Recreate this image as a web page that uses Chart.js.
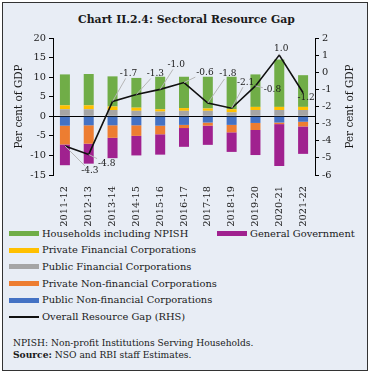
<!DOCTYPE html>
<html>
<head>
<meta charset="utf-8">
<script src="https://cdn.jsdelivr.net/npm/chart.js@4.4.1/dist/chart.umd.min.js"></script>
<style>
  body { margin: 0; background: #fff; font-family: "DejaVu Serif", serif; color: #1a1a1a; }
  #frame {
    position: absolute; left: 2px; top: 2px; width: 366px; height: 369px;
    box-sizing: border-box; border: 1.5px solid #333; background: #e8edf5;
  }
  #title {
    position: absolute; left: 0; top: 12px; width: 373px; text-align: center;
    font-weight: bold; font-size: 11px; line-height: 16px;
  }
  #chartBox { position: absolute; left: 0; top: 0; width: 370px; height: 226px; }
  .leg { position: absolute; font-size: 10px; line-height: 14px; white-space: nowrap; }
  .sw { position: absolute; width: 30px; height: 5px; }
  .note { position: absolute; left: 13px; font-size: 9.5px; line-height: 12px; white-space: nowrap; }
</style>
</head>
<body>
<div id="frame"></div>
<div id="title">Chart II.2.4: Sectoral Resource Gap</div>
<div id="chartBox"><canvas id="myChart"></canvas></div>
<div id="legend"></div>
<div class="note" style="top:337px">NPISH: Non-profit Institutions Serving Households.</div>
<div class="note" style="top:349px"><b>Source:</b> NSO and RBI staff Estimates.</div>

<script>
/* DATA */
const categories = ['2011-12', '2012-13', '2013-14', '2014-15', '2015-16', '2016-17',
                    '2017-18', '2018-19', '2019-20', '2020-21', '2021-22'];
const households    = [7.9, 8.0, 7.7, 7.6, 8.3, 8.0, 8.1, 8.3, 8.3, 12.1, 8.1];
const privateFin    = [1.0, 1.0, 0.9, 0.8, 0.6, 0.7, 0.6, 0.8, 0.8, 0.8, 0.8];
const publicFin     = [1.8, 1.8, 1.6, 1.4, 1.2, 1.4, 1.4, 1.0, 1.6, 1.6, 1.6];
const privateNonFin = [-4.8, -4.7, -3.2, -2.7, -2.2, -0.8, -0.8, -1.9, -1.8, -0.4, -1.2];
const publicNonFin  = [-2.4, -2.3, -2.3, -2.3, -2.4, -2.2, -1.6, -2.2, -1.7, -1.6, -1.4];
const genGovt       = [-5.3, -5.1, -5.2, -5.0, -5.2, -4.8, -4.9, -5.0, -6.4, -10.7, -7.0];
const overallGap    = [-4.3, -4.8, -1.7, -1.3, -1.0, -0.6, -1.8, -2.1, -0.8, 1.0, -1.2];
const leftTicks  = [-15, -10, -5, 0, 5, 10, 15, 20];
const rightTicks = [-6, -5, -4, -3, -2, -1, 0, 1, 2];

const FONT = '"DejaVu Serif", serif';
const TXT = '#1a1a1a';

/** scale an element's font so its text is the given width */
const fitWidth = function (el, target) {
  const cs = getComputedStyle(el);
  const size = parseFloat(cs.fontSize);
  const c = document.createElement('canvas').getContext('2d');
  c.font = cs.fontWeight + ' ' + size + 'px ' + FONT;
  const w = c.measureText(el.textContent).width;
  return size * target / w;
}

/* label placement relative to each line point (dx, dy in px) */
const labelOffsets = [[25, 25], [18, 9], [16, -28], [19, -21], [16, -25], [21, -10],
                      [20, -29], [14, -26], [17, 4], [2, -6], [3, 5]];

/** line labels with leader lines */
const gapLabels = {
  id: 'gapLabels',
  afterDatasetsDraw(chart) {
    const ctx = chart.ctx;
    const idx = chart.data.datasets.findIndex(d => d.type === 'line');
    const meta = chart.getDatasetMeta(idx);
    ctx.save();
    ctx.font = '9px ' + FONT;
    ctx.textAlign = 'center';
    ctx.textBaseline = 'middle';
    meta.data.forEach((pt, i) => {
      const txt = overallGap[i].toFixed(1);
      const [dx, dy] = labelOffsets[i];
      const lx = pt.x + dx, ly = pt.y + dy;
      const hw = ctx.measureText(txt).width / 2 + 1, hh = 5;
      const t = Math.min(dx ? hw / Math.abs(dx) : 9, dy ? hh / Math.abs(dy) : 9);
      if (t < 1) {
        ctx.strokeStyle = '#b5b5b5';
        ctx.lineWidth = 1;
        ctx.beginPath();
        ctx.moveTo(pt.x, pt.y);
        ctx.lineTo(lx - t * dx, ly - t * dy);
        ctx.stroke();
      }
      ctx.fillStyle = TXT;
      ctx.fillText(txt, lx, ly);
    });
    ctx.restore();
  }
};

/** RHS title reading bottom to top */
const rightTitle = {
  id: 'rightTitle',
  afterDraw(chart) {
    const ctx = chart.ctx, a = chart.chartArea;
    ctx.save();
    ctx.translate(350, (a.top + a.bottom) / 2);
    ctx.rotate(-Math.PI / 2);
    ctx.font = '10.4px ' + FONT;
    ctx.fillStyle = TXT;
    ctx.textAlign = 'center';
    ctx.textBaseline = 'middle';
    ctx.fillText('Per cent of GDP', 0, 0);
    ctx.restore();
  }
};

const barSets = [
  { label: 'Public Non-financial Corporations', data: publicNonFin, color: '#4472c4' },
  { label: 'Private Non-financial Corporations', data: privateNonFin, color: '#ed7d31' },
  { label: 'Public Financial Corporations', data: publicFin, color: '#a5a5a5' },
  { label: 'Private Financial Corporations', data: privateFin, color: '#ffc000' },
  { label: 'Households including NPISH', data: households, color: '#70ad47' },
  { label: 'General Government', data: genGovt, color: '#a0218f' }
];

const datasets = barSets.map(s => ({
  type: 'bar', label: s.label, data: s.data, backgroundColor: s.color,
  stack: 'gap', yAxisID: 'y', order: 1, barPercentage: 0.42, categoryPercentage: 1
}));
datasets.push({
  type: 'line', label: 'Overall Resource Gap (RHS)', data: overallGap, yAxisID: 'y1',
  borderColor: '#111', borderWidth: 1.6, pointRadius: 0, tension: 0, order: 0
});

const tickFont = { family: FONT, size: 9.8 };

new Chart(document.getElementById('myChart'), {
  data: { labels: categories, datasets: datasets },
  options: {
    responsive: true,
    maintainAspectRatio: false,
    animation: false,
    layout: { padding: { top: 38, left: 0, right: 0, bottom: 0 } },
    plugins: { legend: { display: false }, tooltip: { enabled: false } },
    scales: {
      x: {
        stacked: true,
        grid: { display: false },
        border: { display: false },
        ticks: { autoSkip: false, maxRotation: 90, minRotation: 90, padding: 3,
                 color: TXT, font: tickFont },
        afterFit(scale) { scale.height = 51; }
      },
      y: {
        stacked: true,
        position: 'left',
        min: leftTicks[0], max: leftTicks[leftTicks.length - 1],
        border: { display: true, color: '#000' },
        grid: {
          color: c => (c.tick && c.tick.value === 0 ? '#000' : 'transparent'),
          tickColor: '#000', tickLength: 4
        },
        ticks: { stepSize: leftTicks[1] - leftTicks[0], padding: 3, color: TXT, font: tickFont },
        title: { display: true, text: 'Per cent of GDP', color: TXT,
                 font: { family: FONT, size: 10.4 }, padding: { top: 13, bottom: 0 } },
        afterFit(scale) { scale.width = 53; }
      },
      y1: {
        position: 'right',
        min: rightTicks[0], max: rightTicks[rightTicks.length - 1],
        border: { display: true, color: '#000' },
        grid: { drawOnChartArea: false, tickColor: '#000', tickLength: 4 },
        ticks: { stepSize: rightTicks[1] - rightTicks[0], padding: 3, color: TXT, font: tickFont },
        afterFit(scale) { scale.width = 55; }
      }
    }
  },
  plugins: [gapLabels, rightTitle]
});

/* HTML LEGEND */
const legendItems = [
  { label: 'Households including NPISH', color: '#70ad47', x: 9, row: 0 },
  { label: 'General Government', color: '#a0218f', x: 217, row: 0 },
  { label: 'Private Financial Corporations', color: '#ffc000', x: 9, row: 1 },
  { label: 'Public Financial Corporations', color: '#a5a5a5', x: 9, row: 2 },
  { label: 'Private Non-financial Corporations', color: '#ed7d31', x: 9, row: 3 },
  { label: 'Public Non-financial Corporations', color: '#4472c4', x: 9, row: 4 },
  { label: 'Overall Resource Gap (RHS)', color: '#111', x: 9, row: 5, line: true }
];
const legendEl = document.getElementById('legend');
const legTexts = [];
legendItems.forEach(it => {
  const cy = 233.5 + it.row * 16.7;
  const sw = document.createElement('div');
  sw.className = 'sw';
  sw.style.left = it.x + 'px';
  sw.style.top = (cy - (it.line ? 1 : 2.5)) + 'px';
  sw.style.height = (it.line ? 2 : 5) + 'px';
  sw.style.background = it.color;
  legendEl.appendChild(sw);
  const tx = document.createElement('div');
  tx.className = 'leg';
  tx.style.left = (it.x + 33) + 'px';
  tx.style.top = (cy - 7) + 'px';
  tx.textContent = it.label;
  legendEl.appendChild(tx);
  legTexts.push(tx);
});

/* match text widths of the reference */
const legSize = fitWidth(legTexts[4], 175);
legTexts.forEach(t => t.style.fontSize = legSize + 'px');
const titleEl = document.getElementById('title');
titleEl.style.fontSize = fitWidth(titleEl, 217) + 'px';
const notes = document.querySelectorAll('.note');
const noteSize = fitWidth(notes[0], 241);
notes.forEach(n => n.style.fontSize = noteSize + 'px');
</script>
</body>
</html>
